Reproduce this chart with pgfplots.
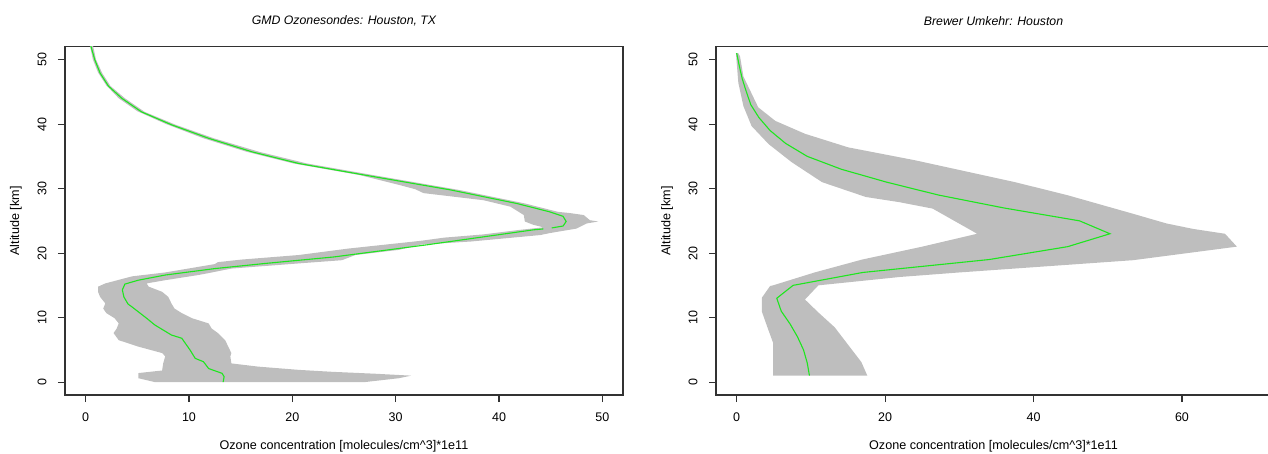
\documentclass[border=0pt]{standalone}
\usepackage{fontspec}
\setmainfont{Liberation Sans}
\usepackage{pgfplots}
\pgfplotsset{compat=1.18}
\definecolor{band}{RGB}{190,190,190}
\definecolor{lgreen}{RGB}{30,230,30}
\definecolor{boxc}{RGB}{50,50,50}
\begin{document}
\begin{tikzpicture}[x=1pt,y=1pt]
\useasboundingbox (0,0) rectangle (1268,453);
\pgfplotsset{
 myax/.style={
  scale only axis, height=348.3pt,
  ymin=-2, ymax=52,
  ytick={0,10,...,50},
  tick pos=left, tick align=outside, major tick length=7pt,
  axis line style={boxc, line width=1.2pt},
  every tick/.style={boxc, line width=1.1pt},
  tick label style={font=\fontsize{12.5}{14}\selectfont},
  /pgf/number format/assume math mode=true,
  yticklabel style={rotate=90, anchor=south},
  xticklabel shift=7pt, yticklabel shift=8pt,
  title style={font=\itshape\fontsize{12.3}{14}\selectfont, at={(axis description cs:0.5,1.0574)}, anchor=center},
  every axis x label/.style={at={(axis description cs:0.5,-0.1470)}, anchor=center, font=\fontsize{12.6}{14}\selectfont},
  every axis y label/.style={at={(axis description cs:-0.088,0.5)}, rotate=90, anchor=center, font=\fontsize{12.6}{14}\selectfont},
  xlabel={Ozone concentration [molecules/cm\textasciicircum 3]*1e11},
  ylabel={Altitude [km]},
 }
}
\begin{axis}[myax, at={(65pt,58pt)}, anchor=south west, width=558pt,
  xmin=-2, xmax=52, xtick={0,10,...,50},
  title={GMD Ozonesondes: Houston, TX}]
\addplot[fill=band, draw=none] coordinates {
(27.0,0) (30.3,0.6) (31.5,1.0) (28.0,1.3) (23.8,1.6) (20.6,1.9) (16.7,2.4) (14.1,2.9)
(14.0,4.0) (14.1,4.5) (13.8,5.5) (13.5,6.5) (12.8,7.6) (12.2,8.3) (11.9,9.1) (10.3,9.9)
(9.3,10.7) (8.6,11.4) (8.3,12.2) (8.0,13.2) (7.4,14.0) (6.1,14.8) (5.9,15.3) (7.7,15.8)
(10.9,16.6) (11.9,16.9) (14.1,17.6) (20.6,18.4) (24.8,18.9) (26.1,19.7) (30.3,20.5) (32.4,21.3)
(37.3,21.8) (44.0,22.8) (44.9,23.1) (47.5,23.8) (48.5,24.6) (49.6,24.9) (48.8,25.1) (48.2,25.9)
(46.9,26.2) (45.7,26.4) (42.5,27.7) (36.1,29.8) (29.6,31.6) (27.8,32.1) (21.4,33.9) (16.8,35.7)
(12.4,37.8) (8.7,39.9) (5.7,41.9) (3.8,44.0) (2.4,45.9) (1.6,47.9) (1.0,50) (0.6,53)
(0.3,53) (0.7,50) (1.2,48) (2.0,46) (3.2,44) (5.0,42) (7.8,40) (11.4,37.8) (15.6,35.7)
(20.1,33.9) (26.5,32.1) (30.5,30.5) (31.9,29.9) (32.7,29.3) (38.5,28.2) (41.1,27.2) (42.4,25.9)
(42.5,24.9) (43.3,24.4) (44.3,24.0) (42.0,23.6) (38.5,22.9) (34.7,22.4) (32.4,21.9) (25.4,20.7)
(20.6,19.7) (15.1,19.0) (12.8,18.6) (12.5,18.3) (7.7,17.0) (4.5,16.4) (1.9,15.3) (1.2,14.8)
(1.2,14.0) (1.4,13.2) (1.9,12.2) (1.7,11.4) (2.0,10.7) (2.8,9.9) (3.2,9.1) (3.0,8.3)
(2.7,7.6) (3.2,6.5) (5.1,5.5) (7.4,4.5) (7.7,4.0) (7.5,2.9) (7.4,1.8) (5.1,1.4)
(5.1,0.6) (6.7,0.0)
} -- cycle;
\addplot[lgreen, line width=1.1pt] coordinates {
(13.3,0) (13.4,0.84) (13.2,1.36) (11.9,2.1) (11.4,3.16) (10.6,3.68) (10.1,4.98) (9.3,6.8)
(8.3,7.3) (6.7,8.85) (5.9,9.9) (4.45,11.7) (4.1,12.1) (3.7,13.2) (3.55,14.3) (3.8,15.2)
(5.1,15.8) (7.7,16.6) (12.5,17.6) (17.4,18.4) (24.0,19.4) (33.1,21.3) (35.3,21.8) (43.3,23.6) (44.3,23.75)
};
\addplot[lgreen, line width=1.1pt] coordinates {
(45.1,23.9) (46.2,24.2) (46.5,24.9) (46.2,25.7) (44.9,26.4) (41.7,27.7) (35.3,29.8) (28.8,31.6)
(27.0,32.1) (20.6,33.9) (16.1,35.7) (11.9,37.8) (8.3,39.9) (5.4,41.9) (3.5,44.0) (2.2,45.9)
(1.4,47.9) (0.9,49.9) (0.5,52.1) (0.4,53)
};
\end{axis}
\begin{axis}[myax, at={(716pt,58pt)}, anchor=south west, width=555pt,
  xmin=-2.79, xmax=72.0, xtick={0,20,40,60},
  title={Brewer Umkehr: Houston}]
\addplot[fill=band, draw=none] coordinates {
(17.6,1) (16.8,3.1) (13.2,8.5) (11.0,10.8) (9.2,12.8) (11.0,15) (22.0,16.3) (30.0,17)
(53.4,18.9) (67.4,21.0) (65.8,23.0) (61.5,23.75) (57.9,24.6) (53.4,26.1) (44.5,29.0) (37.5,31.0)
(24.0,34.4) (15.0,36.4) (9.2,38.5) (5.2,40.5) (2.9,42.6) (0.9,47.4) (0.45,50.5) (0.2,51)
(-0.1,51) (0,49.5) (0.22,46.4) (0.9,42.8) (2.0,39.7) (4.3,36.9) (7.4,34.1) (11.5,31.0)
(17.4,28.7) (21.9,27.9) (26.4,26.9) (32.4,23.0) (25.0,21) (16.9,19) (10.5,17) (4.9,15)
(4.5,14.9) (3.4,13.1) (3.4,10.9) (4.2,8.3) (4.9,6.1) (4.9,1)
} -- cycle;
\addplot[lgreen, line width=1.1pt] coordinates {
(9.8,1) (9.5,3) (9.0,5) (8.2,7) (7.2,9) (6.0,11) (5.4,13) (7.6,15) (17.0,17) (34.0,19)
(44.6,21) (50.3,23) (46.2,25) (36.0,27) (27.2,29) (20.2,31) (14.1,33) (9.5,35) (6.6,37)
(4.5,39) (3.0,41) (1.9,43) (1.3,45) (0.75,47) (0.35,49) (0,51)
};
\end{axis}
\end{tikzpicture}
\end{document}
